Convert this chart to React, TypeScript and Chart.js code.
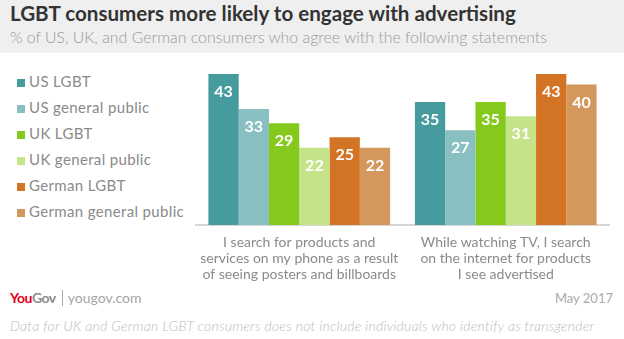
import React, { useEffect, useRef } from "react";
import { Chart, registerables } from "chart.js";

Chart.register(...registerables);

const categories: string[][] = [
  ["I search for products and", "services on my phone as a result", "of seeing posters and billboards"],
  ["While watching TV, I search", "on the internet for products", "I see advertised"],
];
const seriesNames = ["US LGBT", "US general public", "UK LGBT", "UK general public", "German LGBT", "German general public"];
const usLgbt = [43, 35];
const usGeneral = [33, 27];
const ukLgbt = [29, 35];
const ukGeneral = [22, 31];
const germanLgbt = [25, 43];
const germanGeneral = [22, 40];
const seriesColors = ["#459b9e", "#88c0c2", "#84c91c", "#c5e48a", "#d37424", "#d4975c"];

const seriesValues = [usLgbt, usGeneral, ukLgbt, ukGeneral, germanLgbt, germanGeneral];

const FONT = "Lato, 'Open Sans', sans-serif";

const valueLabels = {
  id: "valueLabels",
  afterDatasetsDraw(chart: any) {
    const ctx = chart.ctx;
    ctx.save();
    ctx.fillStyle = "#ffffff";
    ctx.font = `bold 16px ${FONT}`;
    ctx.textAlign = "center";
    ctx.textBaseline = "middle";
    chart.data.datasets.forEach((ds: any, i: number) => {
      chart.getDatasetMeta(i).data.forEach((el: any, j: number) => {
        ctx.fillText(String(ds.data[j]), el.x, el.y + 18);
      });
    });
    ctx.restore();
  },
};

export default function App() {
  const canvasRef = useRef<HTMLCanvasElement | null>(null);

  useEffect(() => {
    if (!canvasRef.current) return;
    const chart = new Chart(canvasRef.current, {
      type: "bar",
      data: {
        labels: categories,
        datasets: seriesNames.map((name, i) => ({
          label: name,
          data: seriesValues[i],
          backgroundColor: seriesColors[i],
          borderWidth: 0,
          categoryPercentage: 0.88,
          barPercentage: 1,
        })),
      },
      options: {
        responsive: false,
        maintainAspectRatio: false,
        animation: false,
        layout: { padding: { left: 196, right: 15, top: 20, bottom: 0 } },
        plugins: {
          legend: { display: false },
          tooltip: { enabled: false },
          title: { display: false },
        },
        scales: {
          x: {
            grid: { display: false, drawTicks: false },
            border: { display: true, color: "#d6d6d6", width: 2 },
            ticks: {
              color: "#8a8a8a",
              font: { family: FONT, size: 14, lineHeight: 1.12 },
              padding: 10,
              maxRotation: 0,
              autoSkip: false,
            },
            afterFit: (axis: any) => {
              axis.height = 60;
            },
          },
          y: {
            display: false,
            min: 0,
            max: 43,
          },
        },
      },
      plugins: [valueLabels],
    });
    return () => chart.destroy();
  }, []);

  return (
    <div
      style={{
        position: "absolute",
        left: 0,
        top: 0,
        width: 624,
        height: 339,
        background: "#ffffff",
        fontFamily: FONT,
        overflow: "hidden",
      }}
    >
      <div style={{ position: "absolute", left: 0, top: 0, width: 624, height: 53, background: "#efefef" }} />
      <div
        style={{
          position: "absolute",
          left: 10,
          top: 1,
          fontSize: 20.6,
          lineHeight: "25px",
          fontWeight: 700,
          color: "#333333",
          whiteSpace: "nowrap",
        }}
      >
        LGBT consumers more likely to engage with advertising
      </div>
      <div
        style={{
          position: "absolute",
          left: 10,
          top: 27,
          fontSize: 15.9,
          lineHeight: "20px",
          fontWeight: 300,
          color: "#9a9a9a",
          whiteSpace: "nowrap",
        }}
      >
        % of US, UK, and German consumers who agree with the following statements
      </div>
      {seriesNames.map((name, i) => (
        <div key={name} style={{ position: "absolute", left: 17, top: 71 + i * 26, height: 20, whiteSpace: "nowrap" }}>
          <div
            style={{ position: "absolute", left: 0, top: 8, width: 8, height: 8, background: seriesColors[i] }}
          />
          <div
            style={{
              position: "absolute",
              left: 12,
              top: 0,
              fontSize: 15,
              letterSpacing: 0.35,
              lineHeight: "20px",
              fontWeight: 400,
              color: "#8a8a8a",
            }}
          >
            {name}
          </div>
        </div>
      ))}
      <canvas
        ref={canvasRef}
        width={624}
        height={231}
        style={{ position: "absolute", left: 0, top: 54, width: 624, height: 231 }}
      />
      <div
        style={{
          position: "absolute",
          left: 10,
          top: 289,
          fontSize: 14,
          lineHeight: "18px",
          whiteSpace: "nowrap",
          display: "flex",
          alignItems: "center",
        }}
      >
        <span style={{ fontWeight: 700, color: "#e3001b", letterSpacing: -0.5 }}>You</span>
        <span style={{ fontWeight: 700, color: "#8c8c8c", letterSpacing: -0.5 }}>Gov</span>
        <span style={{ display: "inline-block", width: 1, height: 16, background: "#aaaaaa", margin: "0 5px 0 6px" }} />
        <span style={{ color: "#a5a5a5", fontWeight: 400 }}>yougov.com</span>
      </div>
      <div
        style={{
          position: "absolute",
          right: 11,
          top: 289,
          fontSize: 13,
          lineHeight: "18px",
          color: "#ababab",
          whiteSpace: "nowrap",
        }}
      >
        May 2017
      </div>
      <div
        style={{
          position: "absolute",
          left: 10,
          top: 317,
          fontSize: 14,
          letterSpacing: 0.25,
          lineHeight: "18px",
          fontStyle: "italic",
          fontWeight: 300,
          color: "#bcbcbc",
          whiteSpace: "nowrap",
        }}
      >
        Data for UK and German LGBT consumers does not include individuals who identify as transgender
      </div>
    </div>
  );
}
